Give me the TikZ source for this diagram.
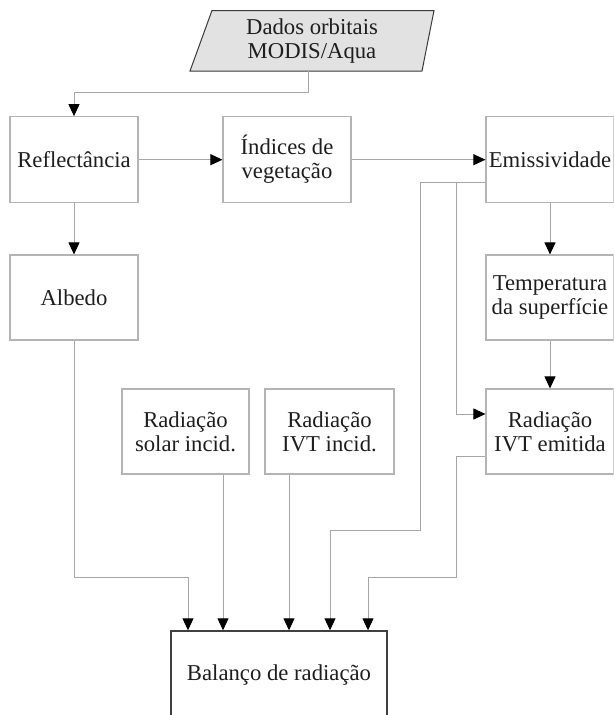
\documentclass[tikz,border=0pt]{standalone}
\usepackage{fontspec}
\setmainfont{Liberation Serif}
\usetikzlibrary{arrows.meta,calc}
\definecolor{boxgray}{HTML}{B4B4B4}
\definecolor{linegray}{HTML}{A6A6A6}
\definecolor{paragray}{HTML}{E2E2E2}
\definecolor{paradark}{HTML}{3A3A3A}
\definecolor{balgray}{HTML}{404040}
\definecolor{txt}{HTML}{1E1E1E}
\begin{document}
\begin{tikzpicture}[x=1pt,y=-1pt,
  box/.style={draw=boxgray,line width=1.1pt,minimum width=128pt,minimum height=86pt,
    align=center,inner sep=2pt,text=txt,font=\fontsize{22.7}{24}\selectfont},
  conn/.style={draw=linegray,line width=0.9pt,-{Triangle[length=12pt,width=11pt,black]}},
  plain/.style={draw=linegray,line width=0.9pt}]
\useasboundingbox (0,0) rectangle (615,715);
\clip (0,0) rectangle (613.5,715);
% data source
\filldraw[fill=paragray,draw=paradark,line width=1pt] (212,10.5) -- (434,10.5) -- (422,71) -- (190,71) -- cycle;
\node[text=txt,font=\fontsize{22.7}{24}\selectfont,align=center] (data) at (312,41) {Dados orbitais\\MODIS/Aqua};
\coordinate (dataout) at (308.5,71);
% boxes
\node[box] (refl) at (74,159.7) {Reflectância};
\node[box] (ind) at (287,159.7) {Índices de\\vegetação};
\node[box] (emis) at (550,159.7) {Emissividade};
\node[box,minimum height=85pt] (alb) at (74,297.5) {Albedo};
\node[box,minimum height=85pt] (temp) at (550,297.5) {Temperatura\\da superfície};
\node[box,minimum height=85pt,minimum width=127pt] (sol) at (185.5,431.5) {Radiação\\solar incid.};
\node[box,minimum height=85pt,minimum width=129pt] (ivti) at (329.5,431.5) {Radiação\\IVT incid.};
\node[box,minimum height=85pt] (ivte) at (550,431.5) {Radiação\\IVT emitida};
\node[box,draw=balgray,line width=1.4pt,minimum width=216pt,minimum height=88pt] (bal) at (279,675) {Balanço de radiação};
% helper coordinates
\coordinate (yD) at (0,92);
\coordinate (eA) at ([yshift=-23pt]emis.west);
\coordinate (iA) at ([yshift=17.5pt]ivte.west);
\coordinate (iB) at ([yshift=-25pt]ivte.west);
\coordinate (xA) at (420,0);
\coordinate (xB) at (456,0);
\coordinate (yE) at (0,530);
\coordinate (yF) at (0,577);
\coordinate (b1) at (188,0);
\coordinate (b2) at (223,0);
\coordinate (b3) at (289,0);
\coordinate (b4) at (330,0);
\coordinate (b5) at (368,0);
% connectors
\draw[conn] (dataout) |- (refl.north |- yD) -- (refl.north);
\draw[conn] (refl.east) -- (ind.west);
\draw[conn] (ind.east) -- (emis.west);
\draw[conn] (refl.south) -- (alb.north);
\draw[conn] (emis.south) -- (temp.north);
\draw[conn] (temp.south) -- (ivte.north);
\draw[conn] (eA) -- (eA -| xA) -- (xA |- yE) -- (b4 |- yE) -- (b4 |- bal.north);
\draw[conn] (eA -| xB) -- (xB |- iA) -- (iA);
\draw[conn] (iB) -- (iB -| xB) -- (xB |- yF) -- (b5 |- yF) -- (b5 |- bal.north);
\draw[conn] (alb.south) -- (alb.south |- yF) -- (b1 |- yF) -- (b1 |- bal.north);
\draw[conn] (sol.south -| b2) -- (b2 |- bal.north);
\draw[conn] (ivti.south -| b3) -- (b3 |- bal.north);
\end{tikzpicture}
\end{document}
